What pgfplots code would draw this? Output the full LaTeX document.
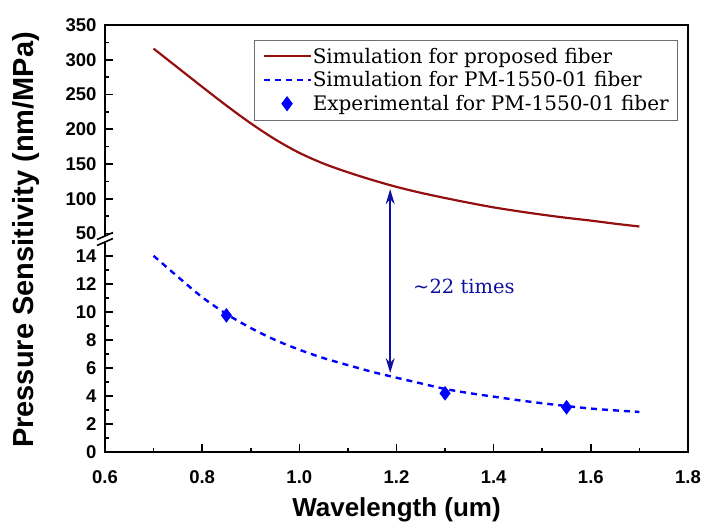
\documentclass[border=0pt]{standalone}
\usepackage{pgfplots}
\pgfplotsset{compat=1.18}
\usetikzlibrary{arrows.meta}
\usepackage{fontspec}
\setmainfont{Liberation Sans}
\newfontfamily\serifchart{DejaVu Serif}

\definecolor{simred}{RGB}{148,16,16}
\definecolor{simblue}{RGB}{0,0,255}
\definecolor{arrowblue}{RGB}{16,16,160}

% shared look of the two halves of the broken axis
\pgfplotsset{
  brokenaxis/.style={
    scale only axis,
    width=583pt,
    xmin=0.6, xmax=1.8,
    axis line style={draw=none},
    tick align=inside,
    tick pos=left,
    minor tick num=1,
    major tick length=8pt,
    minor tick length=4.5pt,
    every tick/.style={black, line width=1.6pt},
    tick label style={font=\fontsize{18.5}{20}\selectfont\bfseries},
    /pgf/number format/assume math mode=true,
    yticklabel style={xshift=-5pt},
    xticklabel style={yshift=-15pt},
    clip=false,
  },
}

\pgfplotstableread{
x     y
0.70  316
0.75  288.5
0.80  261
0.85  234
0.90  208.5
0.95  185.5
1.00  166
1.05  150.5
1.10  138
1.15  127
1.20  117
1.25  108.5
1.30  101
1.35  94
1.40  87.5
1.45  82
1.50  77
1.55  72.5
1.60  68.5
1.65  64
1.70  60
}\proposed

\pgfplotstableread{
x     y
0.70  14.0
0.75  12.5
0.80  11.05
0.85  9.85
0.90  8.85
0.95  8.0
1.00  7.3
1.05  6.7
1.10  6.2
1.15  5.72
1.20  5.3
1.25  4.9
1.30  4.5
1.35  4.2
1.40  3.95
1.45  3.7
1.50  3.48
1.55  3.28
1.60  3.1
1.65  2.97
1.70  2.86
}\pmsim

\pgfplotstableread{
x     y
0.85  9.75
1.30  4.19
1.55  3.19
}\pmexp

\begin{document}
\begin{tikzpicture}
% lower part: 0 .. 15
\begin{axis}[brokenaxis, name=lower,
  height=213pt,
  ymin=0, ymax=15.2,
  ytick={0,2,4,6,8,10,12,14},
  xtick={0.6,0.8,1.0,1.2,1.4,1.6,1.8},
  xticklabel style={/pgf/number format/.cd, fixed, fixed zerofill, precision=1},
]
\addplot[simblue, line width=2.4pt, dash pattern=on 6pt off 5pt, smooth] table {\pmsim};
\addplot[only marks, mark=diamond*, mark size=7pt, simblue] table {\pmexp};
\coordinate (abot) at (axis cs:1.187,5.64);
\node[anchor=west, inner sep=0pt, text=arrowblue,
  font=\serifchart\fontsize{19.5}{22}\selectfont] at (axis cs:1.234,11.8) {\textasciitilde 22 times};
\end{axis}

% upper part: 42 .. 350
\begin{axis}[brokenaxis, name=upper,
  at={(lower.north west)}, anchor=south west,
  height=214pt,
  ymin=42, ymax=350,
  ytick={50,100,150,200,250,300,350},
  xtick=\empty,
  legend cell align=left,
  legend image code/.code={\draw[mark repeat=2,mark phase=2,#1] plot coordinates {(0pt,0pt) (23.5pt,0pt) (47pt,0pt)};},
  legend style={at={(0.983,0.932)}, anchor=north east,
    draw={rgb,255:red,110;green,110;blue,110}, line width=0.8pt,
    font=\serifchart\fontsize{20}{23}\selectfont,
    inner xsep=8pt, inner ysep=6pt, row sep=3pt,
    nodes={inner xsep=1pt, inner ysep=2pt}},
]
\addplot[simred, line width=2.2pt, smooth] table {\proposed};
\addlegendentry{Simulation for proposed fiber}
\addlegendimage{simblue, line width=2.4pt, dash pattern=on 6pt off 5pt}
\addlegendentry{Simulation for PM-1550-01 fiber}
\addlegendimage{only marks, mark=diamond*, mark size=7pt, simblue}
\addlegendentry{Experimental for PM-1550-01 fiber}
\coordinate (atop) at (axis cs:1.187,113.7);
\end{axis}

% frame and break marks
\draw[line width=2.2pt] (lower.south west) rectangle (upper.north east);
\fill[white] ([shift={(-3pt,-3pt)}]lower.north west) rectangle ([shift={(3pt,3pt)}]lower.north west);
\draw[line width=1.6pt] ([shift={(-8pt,-6.5pt)}]lower.north west) -- ([shift={(8pt,0.5pt)}]lower.north west);
\draw[line width=1.6pt] ([shift={(-8pt,-0.5pt)}]lower.north west) -- ([shift={(8pt,6.5pt)}]lower.north west);

% ratio arrow
\draw[arrowblue, line width=1.5pt,
  {Stealth[length=15pt,width=9pt,inset=5pt]}-{Stealth[length=15pt,width=9pt,inset=5pt]}] (atop) -- (abot);

% axis titles
\node[rotate=90, font=\fontsize{29}{32}\selectfont\bfseries] at ([shift={(-79pt,212pt)}]lower.south west) {Pressure Sensitivity (nm/MPa)};
\node[font=\fontsize{26}{30}\selectfont\bfseries] at ([shift={(291.5pt,-58pt)}]lower.south west) {Wavelength (um)};

\pgfresetboundingbox
\path[use as bounding box] ([shift={(-105pt,-79pt)}]lower.south west) rectangle ([shift={(599pt,452pt)}]lower.south west);
\end{tikzpicture}
\end{document}
